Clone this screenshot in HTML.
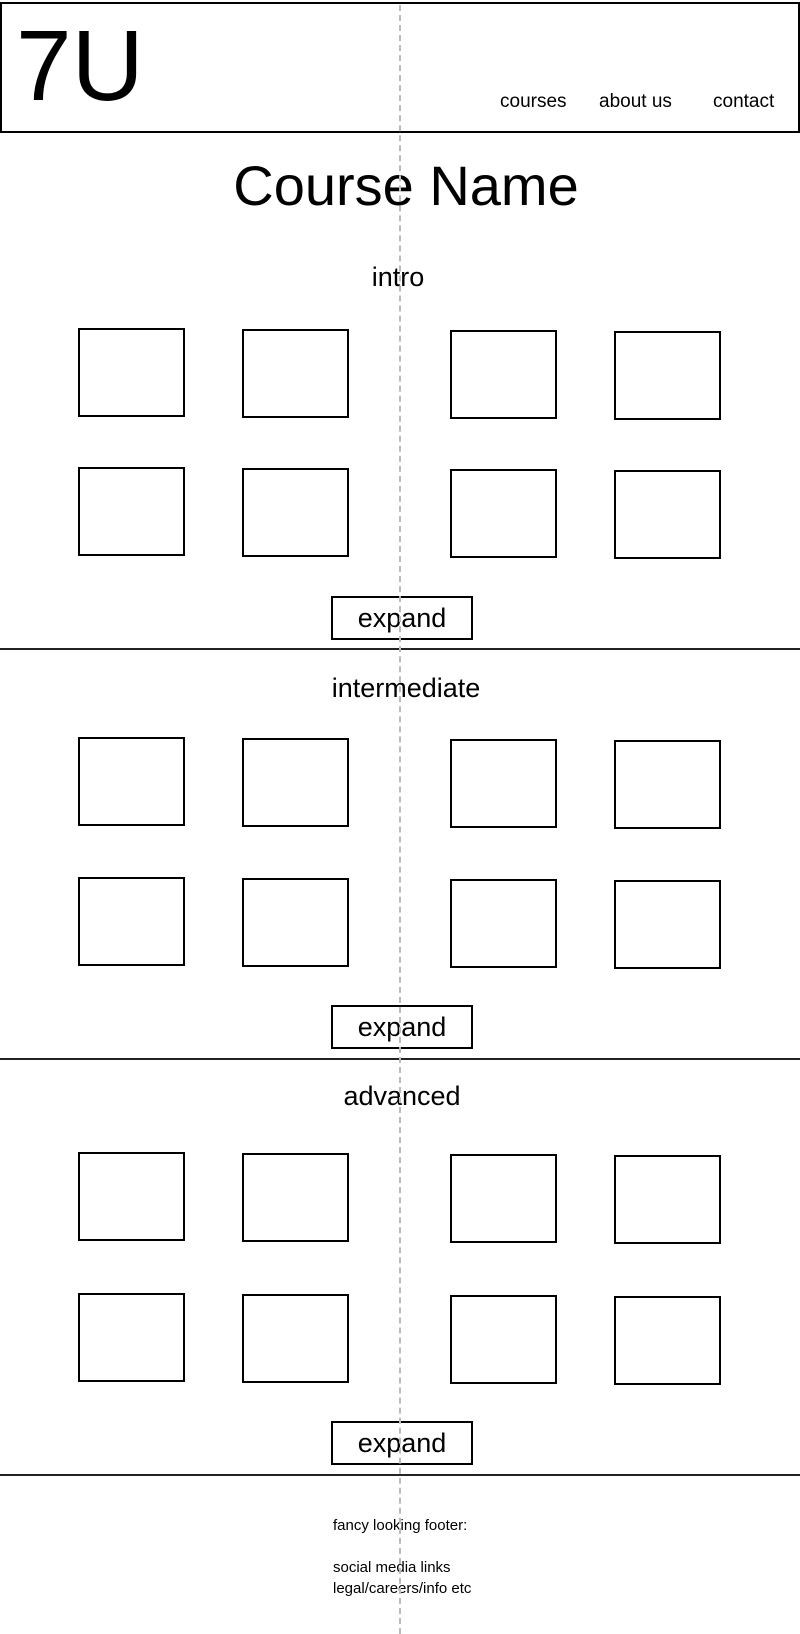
<!DOCTYPE html>
<html><head><meta charset="utf-8"><style>
body{margin:0;width:800px;height:1634px;position:relative;background:#fff;font-family:"Liberation Sans",sans-serif;color:#000;overflow:hidden}
.a{position:absolute}
.b{position:absolute;border:2px solid #000;box-sizing:border-box;width:107px;height:89px}
.e{position:absolute;border:2px solid #000;box-sizing:border-box;width:142px;height:44px;left:331px;font-size:27px;text-align:center;line-height:40px}
.l{position:absolute;left:0;width:800px;height:2px;background:#222}
.t{position:absolute;width:800px;left:0;text-align:center;line-height:1}
</style></head><body>
<div class="a" style="left:0;top:2px;width:800px;height:131px;border:2px solid #000;box-sizing:border-box"></div>
<div class="a" style="left:16px;top:16px;font-size:100px;line-height:1">7U</div>
<div class="a" style="left:500px;top:91px;font-size:19px">courses</div>
<div class="a" style="left:599px;top:91px;font-size:19px">about us</div>
<div class="a" style="left:713px;top:91px;font-size:19px">contact</div>
<div class="t" style="top:158px;font-size:56px;left:6px">Course Name</div>
<div class="t" style="top:264px;font-size:27px;left:-2px">intro</div>
<div class="b" style="left:78px;top:328px"></div><div class="b" style="left:242px;top:329px"></div><div class="b" style="left:450px;top:330px"></div><div class="b" style="left:614px;top:331px"></div>
<div class="b" style="left:78px;top:467px"></div><div class="b" style="left:242px;top:468px"></div><div class="b" style="left:450px;top:469px"></div><div class="b" style="left:614px;top:470px"></div>
<div class="e" style="top:596px">expand</div>
<div class="l" style="top:648px"></div>
<div class="t" style="top:675px;font-size:27px;left:6px">intermediate</div>
<div class="b" style="left:78px;top:737px"></div><div class="b" style="left:242px;top:738px"></div><div class="b" style="left:450px;top:739px"></div><div class="b" style="left:614px;top:740px"></div>
<div class="b" style="left:78px;top:877px"></div><div class="b" style="left:242px;top:878px"></div><div class="b" style="left:450px;top:879px"></div><div class="b" style="left:614px;top:880px"></div>
<div class="e" style="top:1005px">expand</div>
<div class="l" style="top:1058px"></div>
<div class="t" style="top:1083px;font-size:27px;left:2px">advanced</div>
<div class="b" style="left:78px;top:1152px"></div><div class="b" style="left:242px;top:1153px"></div><div class="b" style="left:450px;top:1154px"></div><div class="b" style="left:614px;top:1155px"></div>
<div class="b" style="left:78px;top:1293px"></div><div class="b" style="left:242px;top:1294px"></div><div class="b" style="left:450px;top:1295px"></div><div class="b" style="left:614px;top:1296px"></div>
<div class="e" style="top:1421px">expand</div>
<div class="l" style="top:1474px"></div>
<div class="a" style="left:333px;top:1515px;font-size:15px;line-height:21px">fancy looking footer:<br><br>social media links<br>legal/careers/info etc</div>
<div class="a" style="left:399px;top:5px;height:1629px;border-left:2px dashed #bbb"></div>
</body></html>
